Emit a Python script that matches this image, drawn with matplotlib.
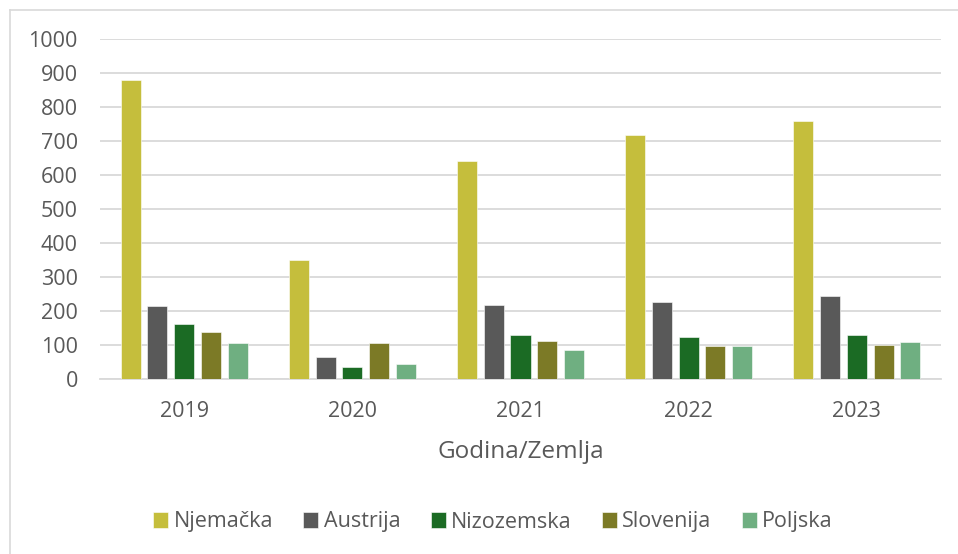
import numpy as np
import matplotlib.pyplot as plt
from matplotlib.lines import Line2D

years = ['2019', '2020', '2021', '2022', '2023']
countries = ['Njemačka', 'Austrija', 'Nizozemska', 'Slovenija', 'Poljska']
njemacka = [880, 350, 642, 717, 760]
austrija = [214, 65, 219, 226, 245]
nizozemska = [161, 36, 130, 123, 130]
slovenija = [139, 105, 113, 97, 100]
poljska = [107, 43, 84, 98, 109]

series = [njemacka, austrija, nizozemska, slovenija, poljska]
colors = ['#C5BE3C', '#595959', '#1B6B24', '#7C7A26', '#6FAF81']
txt = '#595959'

plt.rcParams['font.family'] = ['Open Sans', 'DejaVu Sans']

W, H = 958, 554
fig = plt.figure(figsize=(W/100, H/100), dpi=100)
ax = fig.add_axes([100/W, 1-379/H, (941-100)/W, (379-39)/H])

x = np.arange(len(years))
bw = 0.119
stride = 0.159
for i, (vals, c) in enumerate(zip(series, colors)):
    ax.bar(x + (i-2)*stride, vals, width=bw, color=c, label=countries[i],
           edgecolor='white', linewidth=0.4, zorder=3)

ax.set_xlim(-0.5, len(years)-0.5)
ax.set_ylim(0, 1000)
ax.set_yticks(range(0, 1001, 100))
ax.set_xticks(x)
ax.set_xticklabels(years)
ax.yaxis.grid(True, color='#D9D9D9', linewidth=1.3, zorder=0)
ax.set_axisbelow(True)
for s in ['top', 'right', 'left']:
    ax.spines[s].set_visible(False)
ax.spines['bottom'].set_color('#D9D9D9')
ax.spines['bottom'].set_linewidth(1.3)
ax.tick_params(axis='both', length=0, colors=txt, labelsize=15.5)
ax.tick_params(axis='y', pad=16)
ax.tick_params(axis='x', pad=16)
ax.set_xlabel('Godina/Zemlja', fontsize=17.5, color=txt, labelpad=13)

# chart area border (cropped on right/bottom)
fig.add_artist(Line2D([10/W, 10/W], [0, 1-10/H], color='#D9D9D9', linewidth=1.2))
fig.add_artist(Line2D([10/W, 1], [1-10/H, 1-10/H], color='#D9D9D9', linewidth=1.2))

leg = fig.legend(loc='center', bbox_to_anchor=(493/W, 1-522/H), ncol=5, frameon=False,
                 fontsize=15.5, handlelength=0.7, handleheight=0.7, handletextpad=0.25,
                 columnspacing=1.4)
for t in leg.get_texts():
    t.set_color(txt)

fig.savefig('out.png', dpi=100)
